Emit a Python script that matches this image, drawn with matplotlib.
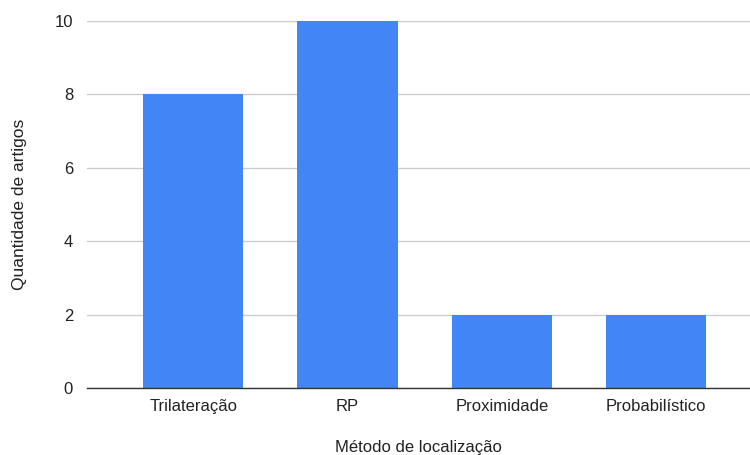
import matplotlib
matplotlib.use('Agg')
import matplotlib.pyplot as plt
import numpy as np

# chart data
categories = ['Trilateração', 'RP', 'Proximidade', 'Probabilístico']
counts = [8, 10, 2, 2]
y_ticks = [0, 2, 4, 6, 8, 10]

plt.rcParams['font.family'] = ['Liberation Sans', 'DejaVu Sans']

fig = plt.figure(figsize=(7.5, 4.55), dpi=100)
ax = fig.add_axes([0.116, 0.1473, 0.884, 0.8066])

x = np.arange(len(categories))
ax.bar(x, counts, width=0.65, color='#4285F4', zorder=3)

ax.set_xlim(-0.69, 3.61)
ax.set_ylim(0, 10)
ax.set_yticks(y_ticks)
ax.set_xticks(x)
ax.set_xticklabels(categories)

ax.grid(axis='y', color='#cccccc', linewidth=1, zorder=0)
for side in ['top', 'right', 'left']:
    ax.spines[side].set_visible(False)
ax.spines['bottom'].set_color('#333333')
ax.spines['bottom'].set_linewidth(1)
ax.spines['bottom'].set_zorder(4)

ax.tick_params(axis='both', length=0, labelsize=12, colors='#222222')
ax.tick_params(axis='y', pad=10)
ax.tick_params(axis='x', pad=8)

ax.set_xlabel('Método de localização', fontsize=12, color='#222222', labelpad=19)
ax.set_ylabel('Quantidade de artigos', fontsize=12.5, color='#222222', labelpad=20)

fig.savefig('out.png', dpi=100)
